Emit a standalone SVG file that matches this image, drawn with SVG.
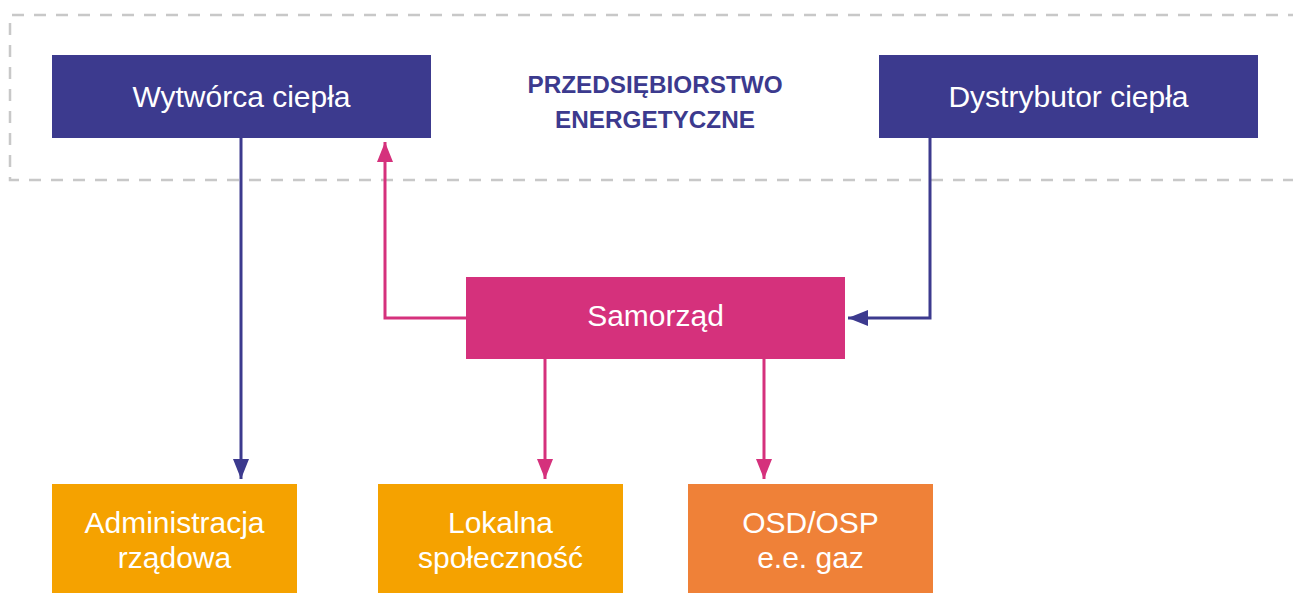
<svg xmlns="http://www.w3.org/2000/svg" width="1293" height="593" viewBox="0 0 1293 593">
<style>
.lbl{font-family:"Liberation Sans",Arial,sans-serif;font-size:30px;fill:#ffffff;text-anchor:middle}
.title{font-family:"Liberation Sans",Arial,sans-serif;font-size:24.3px;font-weight:bold;fill:#3c3a8e;text-anchor:middle}
.navy{fill:#3c3a8e}
.pink{fill:#d5317c}
.orange{fill:#f5a200}
.orange2{fill:#ef8138}
.cn{fill:none;stroke:#3c3a8e;stroke-width:3}
.cp{fill:none;stroke:#d5317c;stroke-width:3}
</style>
<defs>
<marker id="ahN" viewBox="0 0 20 16" refX="20" refY="8" markerWidth="20" markerHeight="16" markerUnits="userSpaceOnUse" orient="auto">
<path d="M0,0 L20,8 L0,16 Z" fill="#3c3a8e"/>
</marker>
<marker id="ahP" viewBox="0 0 20 16" refX="20" refY="8" markerWidth="20" markerHeight="16" markerUnits="userSpaceOnUse" orient="auto">
<path d="M0,0 L20,8 L0,16 Z" fill="#d5317c"/>
</marker>
</defs>
<rect width="1293" height="593" fill="#ffffff"/>
<g id="enterprise">
<path d="M1300,15 H10 V180 H1300" fill="none" stroke="#c8c8c8" stroke-width="2.5" stroke-dasharray="12,10"/>
<text class="title" x="655" y="93">PRZEDSIĘBIORSTWO</text>
<text class="title" x="655" y="128">ENERGETYCZNE</text>
</g>
<g id="connectors">
<path class="cn" d="M241,138 V479" marker-end="url(#ahN)"/>
<path class="cp" d="M466,318 H385 V142" marker-end="url(#ahP)"/>
<path class="cn" d="M930,138 V318 H848" marker-end="url(#ahN)"/>
<path class="cp" d="M545,359 V479" marker-end="url(#ahP)"/>
<path class="cp" d="M764,359 V479" marker-end="url(#ahP)"/>
</g>
<g id="wytworca">
<rect class="navy" x="52" y="55" width="379" height="83"/>
<text class="lbl" x="241.5" y="107">Wytwórca ciepła</text>
</g>
<g id="dystrybutor">
<rect class="navy" x="879" y="55" width="379" height="83"/>
<text class="lbl" x="1068.5" y="107">Dystrybutor ciepła</text>
</g>
<g id="samorzad">
<rect class="pink" x="466" y="277" width="379" height="82"/>
<text class="lbl" x="655.5" y="326">Samorząd</text>
</g>
<g id="administracja">
<rect class="orange" x="52" y="484" width="245" height="109"/>
<text class="lbl" x="174.5" y="533">Administracja</text>
<text class="lbl" x="174.5" y="568">rządowa</text>
</g>
<g id="lokalna">
<rect class="orange" x="378" y="484" width="245" height="109"/>
<text class="lbl" x="500.5" y="533">Lokalna</text>
<text class="lbl" x="500.5" y="568">społeczność</text>
</g>
<g id="osd">
<rect class="orange2" x="688" y="484" width="245" height="109"/>
<text class="lbl" x="810.5" y="533">OSD/OSP</text>
<text class="lbl" x="810.5" y="568">e.e. gaz</text>
</g>
</svg>
